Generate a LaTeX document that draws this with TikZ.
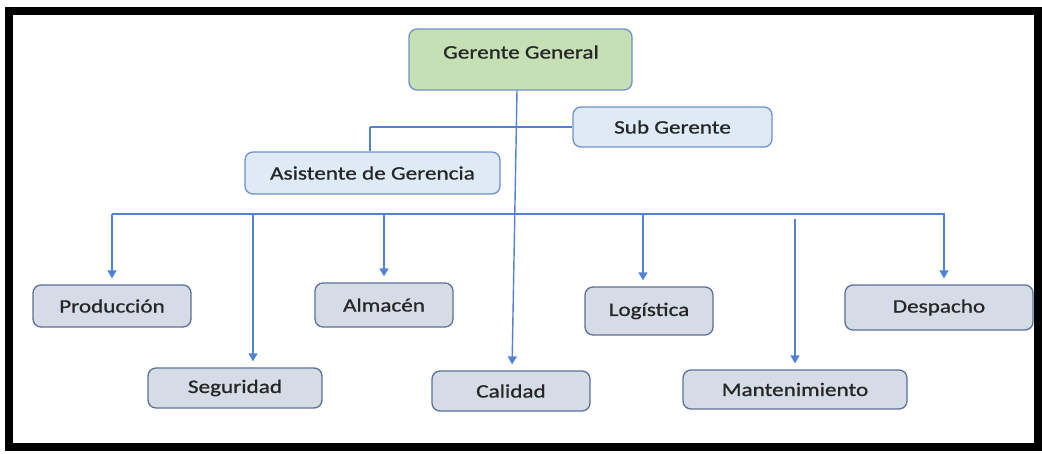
\documentclass[tikz,border=0pt]{standalone}
\usepackage{fontspec}
\setmainfont{Carlito}[FakeStretch=1.22,FakeBold=0.9]
\usetikzlibrary{arrows.meta}
\definecolor{lnblue}{HTML}{5482D2}
\definecolor{ggfill}{HTML}{C5E0B4}
\definecolor{topfill}{HTML}{DEEBF7}
\definecolor{botfill}{HTML}{D6DCE5}
\definecolor{topdraw}{HTML}{7090C8}
\definecolor{botdraw}{HTML}{5B6F98}
\definecolor{txt}{HTML}{262626}
\begin{document}
\begin{tikzpicture}[x=1pt,y=-1pt,
  box/.style={rounded corners=8, line width=1.3, inner sep=0pt, text=txt,
    font=\fontsize{19}{22}\selectfont},
  topbox/.style={box, draw=topdraw, fill=topfill},
  botbox/.style={box, draw=botdraw, fill=botfill},
  ln/.style={draw=lnblue, line width=1.4},
  arr/.style={ln, -{Triangle[length=8,width=9]}, shorten >=6}
]
\useasboundingbox (0,0) rectangle (1042,453);
\draw[line width=7.5] (9,11) rectangle (1038,447);

% boxes
\node[box, draw=topdraw, fill=ggfill, minimum width=223, minimum height=61] (gg) at (520.5,59.5) {};
\node[text=txt, font=\fontsize{19}{22}\selectfont, inner sep=0pt] (ggt) at (521,52) {Gerente General};
\node[topbox, minimum width=199, minimum height=40] (sub) at (672.5,127) {Sub Gerente};
\node[topbox, minimum width=255, minimum height=42] (asis) at (372.5,173) {Asistente de Gerencia};

\node[botbox, minimum width=158, minimum height=42] (prod) at (112,306) {Producción};
\node[botbox, minimum width=138, minimum height=44] (alm) at (384,305) {Almacén};
\node[botbox, minimum width=174, minimum height=40] (seg) at (235,388) {Seguridad};
\node[botbox, minimum width=158, minimum height=40] (cal) at (511,391) {Calidad};
\node[botbox, minimum width=128, minimum height=48] (log) at (649,311) {Logística};
\node[botbox, minimum width=224, minimum height=39] (mant) at (795,389.5) {Mantenimiento};
\node[botbox, minimum width=188, minimum height=45] (desp) at (939,307.5) {Despacho};

% connectors
\coordinate (j) at (370,127);
\coordinate (bl) at (112,214);
\coordinate (br) at (945,214);
\coordinate (mtop) at (795,219);

\draw[arr] ([xshift=-3.5]gg.south) -- ([xshift=1]cal.north);
\draw[ln] (j) -- (sub.west);
\draw[ln] (j) -- (j |- asis.north);
\draw[ln] (bl) -- (br);

\draw[arr] (bl) -- (prod.north);
\draw[arr] ([xshift=18]seg.north |- bl) -- ([xshift=18]seg.north);
\draw[arr] (alm.north |- bl) -- (alm.north);
\draw[arr] ([xshift=-6]log.north |- bl) -- ([xshift=-6]log.north);
\draw[arr] (mtop) -- (mant.north);
\draw[arr] ([xshift=5]desp.north |- br) -- ([xshift=5]desp.north);
\end{tikzpicture}
\end{document}
